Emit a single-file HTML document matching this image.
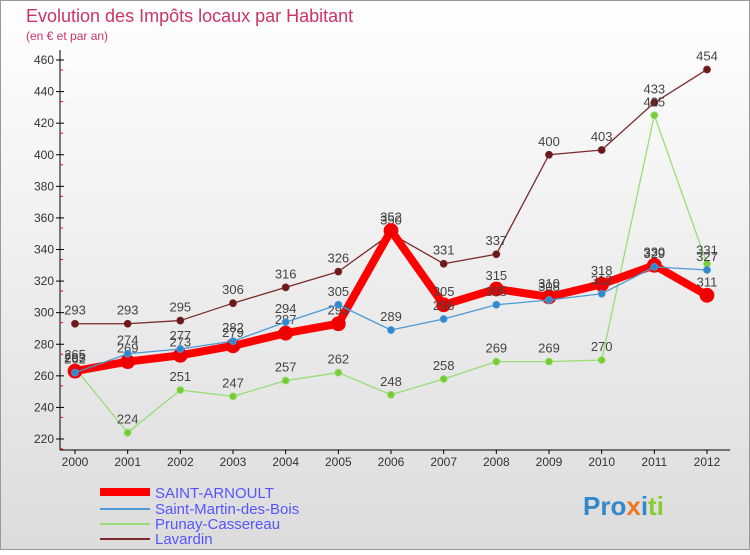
<!DOCTYPE html>
<html><head><meta charset="utf-8"><style>
body{margin:0;width:750px;height:550px;overflow:hidden;font-family:"Liberation Sans",sans-serif}
svg text{font-family:"Liberation Sans",sans-serif}
</style></head><body>
<svg id="c" width="750" height="550" xmlns="http://www.w3.org/2000/svg">
<defs><linearGradient id="bg" x1="0" y1="0" x2="0" y2="1"><stop offset="0" stop-color="#ffffff"/><stop offset="1" stop-color="#dcdcdc"/></linearGradient></defs>
<rect x="0.5" y="0.5" width="749" height="549" fill="url(#bg)" stroke="#999"/>
<text x="26" y="22" font-size="18" fill="#cc3366">Evolution des Impôts locaux par Habitant</text>
<text x="26" y="40" font-size="12" fill="#cc3366">(en € et par an)</text>
<g id="axes"></g><g id="series"></g>
<g>
<line x1="100" y1="492" x2="150" y2="492" stroke="#ff0000" stroke-width="8"/>
<text x="155" y="498" font-size="15" fill="#5555ff">SAINT-ARNOULT</text>
<line x1="100" y1="509" x2="150" y2="509" stroke="#4d9ad4" stroke-width="2"/>
<text x="155" y="514" font-size="15" fill="#5555ff">Saint-Martin-des-Bois</text>
<line x1="100" y1="524" x2="150" y2="524" stroke="#99dd77" stroke-width="2"/>
<text x="155" y="529" font-size="15" fill="#5555ff">Prunay-Cassereau</text>
<line x1="100" y1="539" x2="150" y2="539" stroke="#7a2a2a" stroke-width="2"/>
<text x="155" y="544" font-size="15" fill="#5555ff">Lavardin</text>
</g>
<text x="583" y="515" font-size="26" font-weight="bold"><tspan fill="#3388cc">Pro</tspan><tspan fill="#ee7722">x</tspan><tspan fill="#3388cc">i</tspan><tspan fill="#88cc33">ti</tspan></text>
</svg>
<script>
const years=[2000,2001,2002,2003,2004,2005,2006,2007,2008,2009,2010,2011,2012];
const yTicks=[220,240,260,280,300,320,340,360,380,400,420,440,460];
const lavardin=[293,293,295,306,316,326,350,331,337,400,403,433,454];
const prunay=[265,224,251,247,257,262,248,258,269,269,270,425,331];
const saintMartin=[262,274,277,282,294,305,289,296,305,308,312,329,327];
const saintArnoult=[263,269,273,279,287,293,352,305,315,310,318,330,311];
const NS="http://www.w3.org/2000/svg";
const xs=i=>75+i*(707-75)/12;
const ys=v=>439-(v-220)*(439-60)/240;
function mk(t,a,p){const e=document.createElementNS(NS,t);for(const k in a)e.setAttribute(k,a[k]);p.appendChild(e);return e;}
const ax=document.getElementById('axes');
const yl=mk('line',{x1:60,y1:50,x2:60,y2:450,stroke:'#000'},ax);


const xl=mk('line',{x1:60,y1:450,x2:730,y2:450,stroke:'#000'},ax);


yTicks.forEach(v=>{const y=ys(v);
mk('line',{x1:56,y1:y,x2:64,y2:y,stroke:'#000'},ax);
mk('line',{x1:60,y1:y+10,x2:63,y2:y+10,stroke:'#f00'},ax);
const t=mk('text',{x:54,y:y+4,'font-size':12,'text-anchor':'end',fill:'#333'},ax);t.textContent=v;

});
years.forEach((yr,i)=>{const x=xs(i);
mk('line',{x1:x,y1:450,x2:x,y2:454,stroke:'#000'},ax);
const t=mk('text',{x:x,y:466,'font-size':12,'text-anchor':'middle',fill:'#333'},ax);t.textContent=yr;

});
const sg=document.getElementById('series');
function series(data,color,w,r,fill,name){
const g=mk('g',{},sg);


mk('polyline',{points:data.map((v,i)=>xs(i)+','+ys(v)).join(' '),fill:'none',stroke:color,'stroke-width':w,'stroke-linejoin':'round'},g);
data.forEach((v,i)=>{const c=mk('circle',{cx:xs(i),cy:ys(v),r:r,fill:fill,stroke:color,'stroke-width':0.8},g);


const t=mk('text',{x:xs(i),y:ys(v)-9,'font-size':13,'text-anchor':'middle',fill:'#444'},g);t.textContent=v;

});
}
series(lavardin,'#7a2a2a',1.3,3.5,'#6a1a1a','lavardin');
series(prunay,'#99dd77',1.3,3.5,'#77cc33','prunay-cassereau');
series(saintArnoult,'#ff0000',8,7,'#ee0000','saint-arnoult');
series(saintMartin,'#4d9ad4',1.3,3.5,'#3388cc','saint-martin-des-bois');
</script>
</body></html>
